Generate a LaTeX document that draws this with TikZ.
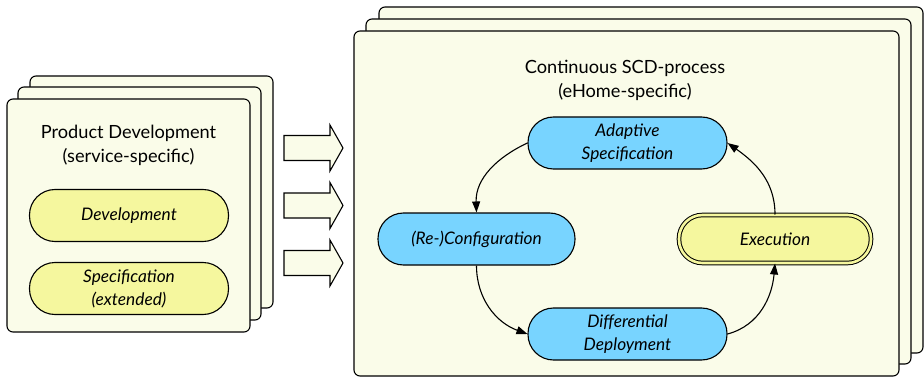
\documentclass[tikz,border=0pt]{standalone}
\usepackage{fontspec}
\setmainfont{Lato}
\usetikzlibrary{arrows.meta}
\definecolor{pagefill}{HTML}{FAFCE9}
\definecolor{blueact}{HTML}{78D4FF}
\definecolor{yellowact}{HTML}{F5F79E}
\tikzset{
  page/.style={draw=black, line width=1.1pt, fill=pagefill, rounded corners=6pt},
  blockarrow/.style={draw=black, line width=1.1pt, fill=pagefill, line join=miter},
  activity/.style={draw=black, line width=1.1pt, rounded corners=25.5pt,
    minimum width=199pt, minimum height=52pt, inner sep=0pt, align=center,
    font=\fontsize{17.3}{23}\selectfont\itshape},
  blueactivity/.style={activity, fill=blueact},
  yellowactivity/.style={activity, fill=yellowact},
  flow/.style={-{Triangle[length=11pt,width=8pt]}, line width=1.1pt},
  heading/.style={align=center, font=\fontsize{18.2}{24}\selectfont}
}
\begin{document}
\begin{tikzpicture}[x=1pt, y=-1pt]
\useasboundingbox (0,0) rectangle (924,377);

% product development stack
\draw[page] (30,76) rectangle (273,308);
\draw[page] (18,87) rectangle (261,320);
\draw[page] (7,99) rectangle (250,332);
\node[heading] (pdtitle) at (128.5,145) {Product Development\\(service-specific)};
\node[yellowactivity] (dev) at (129,215.5) {Development};
\node[yellowactivity] (spec) at (129,288.5) {Specification\\(extended)};

% transfer arrows
\foreach \c/\n in {148/a1, 205.5/a2, 263/a3} {
  \draw[blockarrow] (284,\c-12.5) -- (330,\c-12.5) -- (330,\c-23) -- (343,\c)
    -- (330,\c+23) -- (330,\c+12.5) -- (284,\c+12.5) -- cycle;
}

% continuous process stack
\draw[page] (379,7) rectangle (923,353);
\draw[page] (366,19) rectangle (911,364);
\draw[page] (354,31) rectangle (899,376);
\node[heading] (sctitle) at (625,80) {Continuous SCD-process\\(eHome-specific)};

\node[blueactivity] (adapt) at (627.5,143) {Adaptive\\Specification};
\node[blueactivity, minimum width=197pt] (reconf) at (476.5,239) {(Re-)Configuration};
\node[blueactivity] (diff) at (627.5,334) {Differential\\Deployment};
\node[yellowactivity, minimum width=192pt, minimum height=48pt, rounded corners=23.5pt,
  double=yellowact, double distance=2.6pt, line width=1pt] (exec) at (775,239) {Execution};

\draw[flow] (adapt.west) to[out=205, in=92] (reconf.north);
\draw[flow] (reconf.south) to[out=-90, in=160] (diff.west);
\draw[flow] (diff.east) to[out=15, in=-95] (exec.south);
\draw[flow] (exec.north) to[out=90, in=-35] (adapt.east);
\end{tikzpicture}
\end{document}
